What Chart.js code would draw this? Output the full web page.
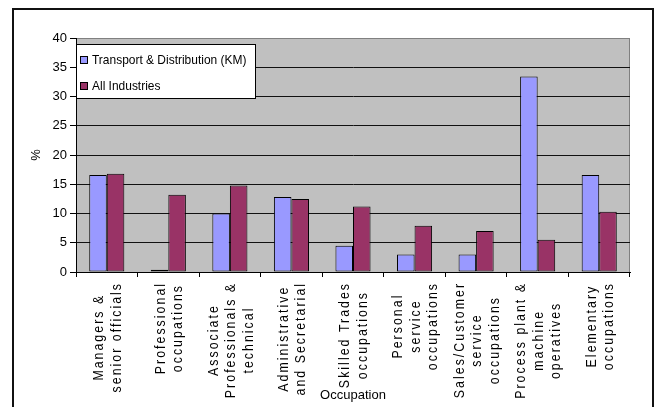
<!DOCTYPE html>
<html>
<head>
<meta charset="utf-8">
<script src="https://cdn.jsdelivr.net/npm/chart.js@4.4.1/dist/chart.umd.min.js"></script>
<style>
  html, body { margin: 0; padding: 0; background: #fff; }
  #wrap { position: relative; width: 655px; height: 407px; }
</style>
</head>
<body>
<div id="wrap"><canvas id="occupationChart"></canvas></div>
<script>
// Occupation groups (each entry is split into the lines it is printed on)
const categories = [
  ['Managers &', 'senior officials'],
  ['Professional', 'occupations'],
  ['Associate', 'Professionals &', 'technical'],
  ['Administrative', 'and Secretarial'],
  ['Skilled Trades', 'occupations'],
  ['Personal', 'service', 'occupations'],
  ['Sales/Customer', 'service', 'occupations'],
  ['Process plant &', 'machine', 'operatives'],
  ['Elementary', 'occupations']
];

// Share of employment in each occupation group, %
const transportKM   = [16.6, 0.4, 10.0, 12.8, 4.5, 3.0, 3.0, 33.4, 16.6];
const allIndustries = [16.8, 13.2, 14.8, 12.5, 11.2, 7.9, 7.0, 5.5, 10.3];

const seriesNames  = ['Transport & Distribution (KM)', 'All Industries'];
const percentTicks = [0, 5, 10, 15, 20, 25, 30, 35, 40];

// Appearance
const FONT = "'Liberation Sans', Arial, Helvetica, sans-serif";
const seriesColors = ['#9999FF', '#993366'];
const CANVAS_H = 407;
const PAD_LEFT = 14, PLOT_LEFT = 76, PLOT_TOP = 38, PLOT_RIGHT = 630, PLOT_BOTTOM = 272;
const LABEL_TOP = 284, LINE_STEP = 17.5;
const LABEL_SIZE = 15, LABEL_SQUEEZE = 0.82, LABEL_SPACING = 2.5;

// Page frame, grey plot area and its grey outline
const framePlugin = {
  id: 'frame',
  beforeDraw(chart) {
    const { ctx, chartArea: a } = chart;
    ctx.save();
    ctx.fillStyle = '#fff';
    ctx.fillRect(0, 0, chart.width, chart.height);
    ctx.strokeStyle = '#111';
    ctx.lineWidth = 2;
    ctx.strokeRect(13, 9, 640, 420);
    ctx.fillStyle = '#C0C0C0';
    ctx.fillRect(a.left, a.top, a.right - a.left, a.bottom - a.top);
    ctx.strokeStyle = '#808080';
    ctx.lineWidth = 1;
    ctx.strokeRect(a.left + 0.5, a.top + 0.5, a.right - a.left - 1, a.bottom - a.top);
    ctx.restore();
  }
};

// Boxed legend in the top-left corner of the plot
const legendBoxPlugin = {
  id: 'legendBox',
  afterDatasetsDraw(chart) {
    const { ctx, chartArea: a } = chart;
    const x0 = a.left, y0 = a.top + 6, w = 179, h = 54;
    ctx.save();
    ctx.fillStyle = '#fff';
    ctx.fillRect(x0, y0, w, h);
    ctx.strokeStyle = '#000';
    ctx.lineWidth = 1;
    ctx.strokeRect(x0 + 0.5, y0 + 0.5, w, h);
    ctx.textAlign = 'left';
    ctx.textBaseline = 'middle';
    chart.data.datasets.forEach((ds, i) => {
      const cy = y0 + 16 + i * 26;
      ctx.fillStyle = ds.backgroundColor;
      ctx.fillRect(x0 + 4, cy - 4, 7, 7);
      ctx.strokeStyle = '#000';
      ctx.strokeRect(x0 + 4.5, cy - 3.5, 7, 7);
      // slightly narrowed lettering
      ctx.save();
      ctx.translate(x0 + 16, cy);
      ctx.scale(0.92, 1);
      ctx.font = '13px ' + FONT;
      ctx.fillStyle = '#000';
      ctx.fillText(ds.label, 0, 0.5);
      ctx.restore();
    });
    ctx.restore();
  }
};

// Vertical category names under the x axis, each line centred in its block
const categoryLabelPlugin = {
  id: 'categoryLabels',
  afterDraw(chart) {
    const { ctx } = chart;
    const xs = chart.scales.x;
    ctx.save();
    ctx.font = LABEL_SIZE + 'px ' + FONT;
    ctx.fillStyle = '#000';
    ctx.textAlign = 'left';
    ctx.textBaseline = 'middle';
    if ('letterSpacing' in ctx) ctx.letterSpacing = '0px';
    const spaced = 'letterSpacing' in ctx;
    const lineWidth = l => ctx.measureText(l).width + (spaced ? (l.length - 1) * LABEL_SPACING : 0);
    chart.data.labels.forEach((lines, i) => {
      const cx = xs.getPixelForValue(i) + 1;
      const widths = lines.map(lineWidth);
      const maxW = Math.max(...widths);
      ctx.save();
      ctx.translate(cx, LABEL_TOP);
      ctx.rotate(-Math.PI / 2);
      ctx.scale(LABEL_SQUEEZE, 1);
      if (spaced) ctx.letterSpacing = LABEL_SPACING + 'px';
      lines.forEach((line, k) => {
        ctx.fillText(line, -maxW / 2 - widths[k] / 2, (k - (lines.length - 1) / 2) * LINE_STEP);
      });
      if (spaced) ctx.letterSpacing = '0px';
      ctx.restore();
    });
    ctx.restore();
  }
};

new Chart(document.getElementById('occupationChart'), {
  type: 'bar',
  data: {
    labels: categories,
    datasets: [
      { label: seriesNames[0], data: transportKM, backgroundColor: seriesColors[0] },
      { label: seriesNames[1], data: allIndustries, backgroundColor: seriesColors[1] }
    ]
  },
  options: {
    responsive: true,
    maintainAspectRatio: false,
    animation: false,
    events: [],
    layout: { padding: { left: PAD_LEFT, top: PLOT_TOP, right: 655 - PLOT_RIGHT, bottom: 0 } },
    datasets: {
      bar: {
        categoryPercentage: 0.57,
        barPercentage: 1,
        borderColor: '#000',
        borderWidth: 1,
        borderSkipped: false
      }
    },
    plugins: {
      legend: { display: false },
      tooltip: { enabled: false }
    },
    scales: {
      x: {
        grid: { display: true, drawOnChartArea: false, drawTicks: true, tickLength: 5, color: '#000', offset: true },
        border: { display: true, color: '#000', width: 1 },
        ticks: { display: false },
        title: {
          display: true, text: 'Occupation', color: '#000',
          font: { family: FONT, size: 13 }, padding: { top: 0, bottom: 4 }
        },
        afterFit(scale) { scale.height = CANVAS_H - PLOT_BOTTOM; }
      },
      y: {
        min: 0,
        max: 40,
        afterBuildTicks(scale) { scale.ticks = percentTicks.map(v => ({ value: v })); },
        ticks: { color: '#000', font: { family: FONT, size: 13 }, padding: 3 },
        grid: {
          color: c => (c.tick && c.tick.value === 40 ? '#808080' : '#111'),
          tickColor: '#000',
          tickLength: 6,
          lineWidth: 1
        },
        border: { display: true, color: '#000', width: 1 },
        title: {
          display: true, text: '%', color: '#000',
          font: { family: FONT, size: 13 }, padding: { top: 15, bottom: 0 }
        },
        afterFit(scale) { scale.width = PLOT_LEFT - PAD_LEFT; }
      }
    }
  },
  plugins: [framePlugin, legendBoxPlugin, categoryLabelPlugin]
});
</script>
</body>
</html>
